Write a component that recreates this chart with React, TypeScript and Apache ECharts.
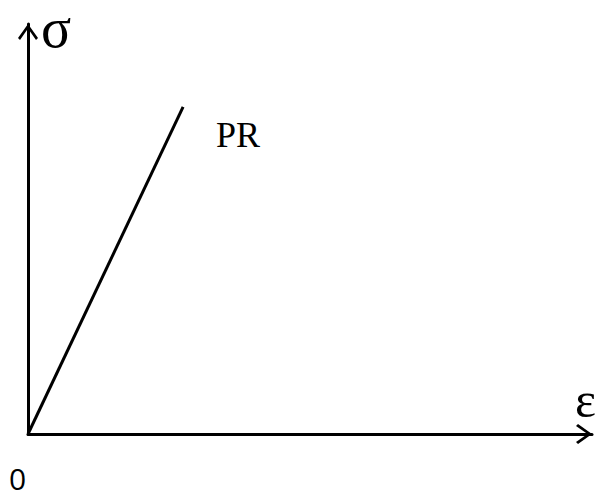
import React, { useEffect, useRef } from "react";
import * as echarts from "echarts";

const xLabel = "ε";
const yLabel = "σ";
const originLabel = "0";
const seriesName = "PR";
const strainValues = [0, 2.75];
const stressValues = [0, 7.98];

const arrowPath = "path://M10,0 L20,14 L18,16 L10,4.5 L2,16 L0,14 Z";

export default function App() {
  const ref = useRef<HTMLDivElement>(null);
  useEffect(() => {
    const chart = echarts.init(ref.current!, null, { renderer: "svg" });
    const data = strainValues.map((x, i) => [x, stressValues[i]]);
    chart.setOption({
      animation: false,
      backgroundColor: "#ffffff",
      grid: { left: 28, right: 3, top: 24, bottom: 60, containLabel: false },
      xAxis: {
        type: "value",
        min: 0,
        max: 10,
        splitLine: { show: false },
        axisTick: { show: false },
        axisLabel: { show: false },
        axisLine: {
          show: true,
          symbol: ["none", arrowPath],
          symbolSize: [20, 16],
          symbolOffset: [0, -8],
          lineStyle: { color: "#000", width: 3 },
        },
      },
      yAxis: {
        type: "value",
        min: 0,
        max: 10,
        splitLine: { show: false },
        axisTick: { show: false },
        axisLabel: { show: false },
        axisLine: {
          show: true,
          symbol: ["none", arrowPath],
          symbolSize: [20, 16],
          symbolOffset: [0, -8],
          lineStyle: { color: "#000", width: 3 },
        },
      },
      series: [
        {
          type: "line",
          name: seriesName,
          data: data,
          showSymbol: false,
          symbol: "none",
          lineStyle: { color: "#000", width: 3 },
          label: { show: false },
          endLabel: {
            show: true,
            formatter: seriesName,
            fontFamily: "'Liberation Serif', 'Times New Roman', serif",
            fontSize: 36,
            color: "#000",
            offset: [25, 28],
          },
        },
      ],
      graphic: [
        {
          type: "text",
          left: 41,
          top: 0,
          style: {
            text: yLabel,
            fontFamily: "'Liberation Serif', 'Times New Roman', serif",
            fontSize: 56,
            fill: "#000",
          },
        },
        {
          type: "text",
          left: 575,
          top: 375,
          style: {
            text: xLabel,
            fontFamily: "'Liberation Serif', 'Times New Roman', serif",
            fontSize: 50,
            fill: "#000",
          },
        },
        {
          type: "text",
          left: 9,
          top: 463,
          style: {
            text: originLabel,
            fontFamily: "'Open Sans', sans-serif",
            fontSize: 30,
            fill: "#000",
          },
        },
      ],
    });
    return () => chart.dispose();
  }, []);
  return (
    <div
      ref={ref}
      style={{ position: "fixed", left: 0, top: 0, width: 595, height: 494 }}
    />
  );
}
